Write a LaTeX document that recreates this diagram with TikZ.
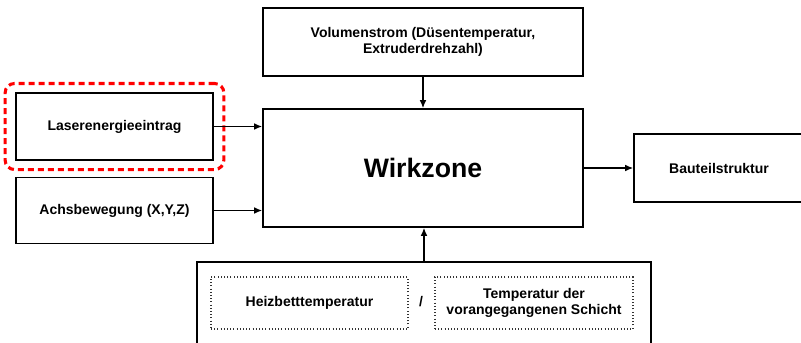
\documentclass[tikz,border=0pt]{standalone}
\usepackage{fontspec}
\setmainfont{Liberation Sans}
\usetikzlibrary{arrows.meta,fit}
\tikzstyle{block}=[draw=black,line width=1.3pt,fill=white,inner sep=0pt,align=center,font=\bfseries\fontsize{10.5}{12.5}\selectfont]
\tikzstyle{dotbox}=[draw=black!80,line width=0.8pt,dash pattern=on 0.8pt off 1.6pt,inner sep=0pt,align=center,font=\bfseries\fontsize{10.5}{12.5}\selectfont]
\tikzstyle{highlight}=[draw=red,line width=2.3pt,dash pattern=on 4.5pt off 3pt,rounded corners=7pt]
\tikzstyle{pfeil}=[line width=0.9pt,-{Latex[length=6pt,width=5pt]}]

\begin{document}
\begin{tikzpicture}[x=0.75pt,y=-0.75pt]
		\useasboundingbox (0,0) rectangle (801,343);
		\node (vol) at (423,42) [block,minimum width=240pt,minimum height=51pt] {Volumenstrom (Düsentemperatur,\\Extruderdrehzahl)};
		\node (wirk) at (423,168) [block,minimum width=240pt,minimum height=88.5pt,font=\bfseries\fontsize{20}{24}\selectfont] {Wirkzone};
		\node (laser) at (114.5,126.5) [block,minimum width=147.75pt,minimum height=50.25pt] {Laserenergieeintrag};
		\node (achs) at (114.5,210.5) [block,minimum width=147.75pt,minimum height=49.5pt] {Achsbewegung (X,Y,Z)};
		\node (bauteil) at (719,168) [block,minimum width=127.5pt,minimum height=51pt] {Bauteilstruktur};
		\node (unten) at (424,304) [block,minimum width=340.5pt,minimum height=63pt] {};
		\node (heiz) at (309.5,303) [dotbox,minimum width=147.75pt,minimum height=39pt] {Heizbetttemperatur};
		\node (schicht) at (534,303) [dotbox,minimum width=148.5pt,minimum height=39pt] {Temperatur der\\vorangegangenen Schicht};
		\node (slash) at (421,302) [font=\bfseries\fontsize{10.5}{12.5}\selectfont] {/};
		
		\node (rahmen) [highlight,fit=(laser),inner xsep=7.5pt,inner ysep=6.5pt] {};
		
		\draw [pfeil] (vol)-- (wirk);
		\draw [pfeil] (laser.east)-- (laser.east -| wirk.west);
		\draw [pfeil] (achs.east)-- (achs.east -| wirk.west);
		\draw [pfeil] (wirk)-- (bauteil);
		\draw [pfeil] (unten.north)-- (unten.north |- wirk.south);
	\end{tikzpicture}
\end{document}
